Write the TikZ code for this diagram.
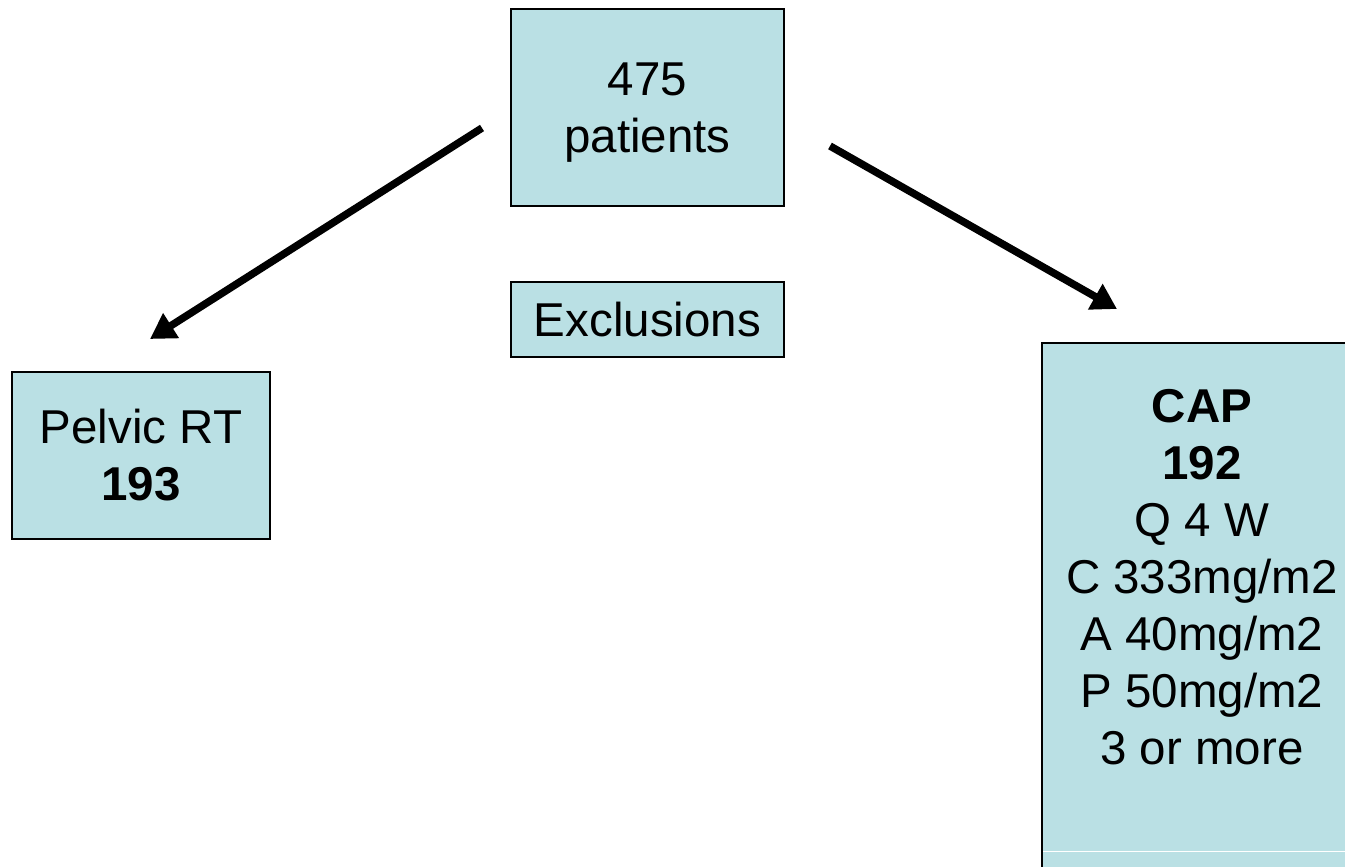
\documentclass[tikz,border=0pt]{standalone}
\usepackage{fontspec}
\setmainfont{Liberation Sans}
\usetikzlibrary{positioning,arrows.meta}
\definecolor{boxblue}{RGB}{186,224,228}

\begin{document}
\begin{tikzpicture}[
  x=1pt, y=-1pt,
  font=\fontsize{47.5}{57}\selectfont,
  box/.style={rectangle, draw=black, line width=2pt, fill=boxblue,
              inner sep=0pt, align=center},
  arr/.style={-{Triangle[length=25pt, width=28pt]}, line width=7.5pt, draw=black}
]
\useasboundingbox (0,0) rectangle (1345,867);
\clip (0,0) rectangle (1345,867);

% total
\node[box, minimum width=273, minimum height=197] (total) at (647.5,107.5) {};
\node[align=center] (totaltext) at ([yshift=-5]total.center) {475\\patients};

% exclusions
\node[box, minimum width=273, minimum height=75] (excl) at (647.5,319.5) {Exclusions};

% pelvic RT arm
\node[box, minimum width=258, minimum height=167] (pelvic) at (141,455.5) {Pelvic RT\\\textbf{193}};

% CAP arm (runs off the page)
\node[box, minimum width=320, minimum height=540, anchor=north west] (cap) at (1041,342) {};
\node[anchor=north, align=center] (captext) at ([yshift=-44]cap.north)
  {\textbf{CAP}\\\textbf{192}\\Q 4 W\\C 333mg/m2\\A 40mg/m2\\P 50mg/m2\\3 or more};
\draw[white, line width=1pt] ([xshift=2, yshift=-509]cap.north west) -- ([yshift=-509]cap.north east);

\draw[arr] ([xshift=-28, yshift=-20.5]total.west) -- ([xshift=9, yshift=32]pelvic.north);
\draw[arr] ([xshift=45, yshift=-38.5]total.east) -- ([xshift=76, yshift=33]cap.north west);
\end{tikzpicture}
\end{document}
